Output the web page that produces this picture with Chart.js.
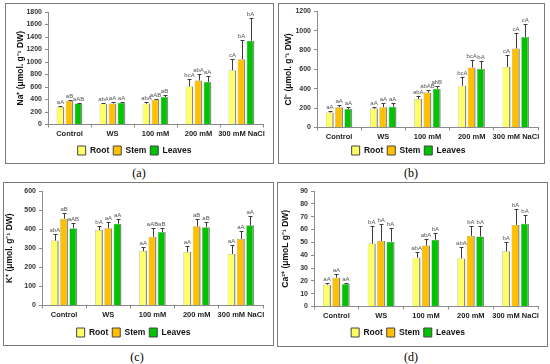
<!DOCTYPE html>
<html>
<head>
<meta charset="utf-8">
<script src="https://cdn.jsdelivr.net/npm/chart.js@4.4.1/dist/chart.umd.min.js"></script>
<style>
  body { margin: 0; width: 550px; height: 364px; background: #fff; position: relative; overflow: hidden; }
  .box { position: absolute; border: 1px solid #7a7a7a; box-sizing: border-box; }
  canvas { position: absolute; }
  .cap { position: absolute; font: 12px "Liberation Serif", serif; color: #000; transform: translate(-50%, -50%); }
</style>
</head>
<body>
<div class="box" style="left:5px;top:3px;width:269px;height:161px"></div>
<div class="box" style="left:278px;top:3px;width:267px;height:161px"></div>
<div class="box" style="left:3px;top:182px;width:271px;height:164px"></div>
<div class="box" style="left:277px;top:182px;width:271px;height:165px"></div>
<canvas id="chartA"></canvas>
<canvas id="chartB"></canvas>
<canvas id="chartC"></canvas>
<canvas id="chartD"></canvas>
<div class="cap" style="left:139px;top:173px">(a)</div>
<div class="cap" style="left:411px;top:173px">(b)</div>
<div class="cap" style="left:137px;top:357px">(c)</div>
<div class="cap" style="left:411px;top:357px">(d)</div>

<script>
// categories and series
const categories = ["Control", "WS", "100 mM", "200 mM", "300 mM NaCl"];
const seriesNames = ["Root", "Stem", "Leaves"];

// (a) Na+
const naRoot = [280, 333, 333, 610, 870];
const naStem = [375, 338, 395, 705, 1045];
const naLeaves = [338, 348, 440, 680, 1340];
const naErr = [[15, 15, 30, 120, 185], [15, 20, 15, 110, 300], [10, 15, 30, 95, 370]];
const naLetters = [["aA", "abA", "abA", "bcA", "cA"], ["aB", "aA", "aAB", "abA", "bA"], ["aAB", "aA", "aB", "aA", "bA"]];

// (b) Cl-
const clRoot = [155, 195, 295, 430, 625];
const clStem = [210, 210, 360, 620, 815];
const clLeaves = [190, 215, 400, 605, 935];
const clErr = [[20, 20, 30, 90, 120], [25, 40, 25, 80, 165], [25, 40, 30, 80, 135]];
const clLetters = [["aA", "aA", "abA", "bcA", "cA"], ["aA", "aA", "abAB", "bcA", "cA"], ["aA", "aA", "abB", "bA", "cA"]];

// (c) K+
const kRoot = [340, 395, 285, 280, 270];
const kStem = [455, 405, 360, 415, 348];
const kLeaves = [405, 428, 385, 410, 420];
const kErr = [[35, 20, 20, 30, 45], [30, 35, 45, 40, 45], [25, 25, 20, 25, 50]];
const kLetters = [["abA", "bA", "aA", "aA", "aA"], ["aB", "aA", "aAB", "aB", "aA"], ["aAB", "aA", "aB", "aB", "aA"]];

// (d) Ca2+
const caRoot = [17, 49, 38, 37.5, 43];
const caStem = [22.5, 51, 47.5, 55, 63.5];
const caLeaves = [17.5, 50.5, 52, 54.5, 64.5];
const caErr = [[1.5, 13.5, 4.5, 8.5, 7], [3, 13, 5, 7.5, 12.5], [1, 11, 5, 8, 6.5]];
const caLetters = [["aA", "bA", "abA", "abA", "bA"], ["aA", "bA", "abA", "bA", "bA"], ["aA", "bA", "bA", "bA", "bA"]];

const barColors = ["#ffff66", "#ffc000", "#00c400"];
const FONT = '"Liberation Sans", Arial, sans-serif';

// error bars + significance letters on top of each bar
const errorBarPlugin = {
  id: "errorBars",
  afterDatasetsDraw(chart) {
    const ctx = chart.ctx;
    const yScale = chart.scales.y;
    chart.data.datasets.forEach((ds, i) => {
      const meta = chart.getDatasetMeta(i);
      meta.data.forEach((bar, j) => {
        const x = Math.round(bar.x) + 0.5;
        const yTop = Math.round(yScale.getPixelForValue(ds.data[j] + ds.errors[j])) + 0.5;
        ctx.save();
        ctx.strokeStyle = "#3c3c3c";
        ctx.lineWidth = 1;
        ctx.beginPath();
        ctx.moveTo(x, bar.y);
        ctx.lineTo(x, yTop);
        ctx.moveTo(x - 2, yTop);
        ctx.lineTo(x + 2, yTop);
        ctx.stroke();
        ctx.fillStyle = "#555";
        ctx.font = "6px " + FONT;
        ctx.textAlign = "center";
        ctx.textBaseline = "bottom";
        ctx.fillText(ds.letters[j], bar.x, yTop - 1);
        ctx.restore();
      });
    });
  },
};

function drawPanel(id, pos, means, errs, letters, yMax, yStep, yTitle, titlePad) {
  const legendOffset = pos.legendY - pos.axisY; // legend centre below x axis
  const xHeight = legendOffset - 8.5;
  const legendH = 23;
  const canvas = document.getElementById(id);
  canvas.style.left = pos.x + "px";
  canvas.style.top = pos.y + "px";
  canvas.width = pos.w;
  canvas.height = pos.axisY - pos.y + xHeight + legendH;

  new Chart(canvas, {
    type: "bar",
    data: {
      labels: categories,
      datasets: seriesNames.map((name, i) => ({
        label: name,
        data: means[i],
        errors: errs[i],
        letters: letters[i],
        backgroundColor: barColors[i],
        borderColor: "#8a8a8a",
        borderWidth: { top: 0.5, left: 0.5, right: 1.5, bottom: 0 },
        borderSkipped: false,
        categoryPercentage: 0.63,
        barPercentage: 0.85,
      })),
    },
    options: {
      responsive: false,
      animation: false,
      layout: {
        padding: { left: 0, top: pos.plotTop - pos.y, right: pos.x + pos.w - pos.plotRight, bottom: 0 },
      },
      plugins: {
        legend: {
          position: "bottom",
          labels: {
            boxWidth: 8,
            boxHeight: 9,
            padding: 4,
            color: "#111",
            font: { family: FONT, size: 8.5, weight: "bold" },
            generateLabels: (chart) => chart.data.datasets.map((ds, i) => ({
              text: ds.label,
              fillStyle: barColors[i],
              strokeStyle: "#444",
              lineWidth: 1,
              fontColor: "#111",
              datasetIndex: i,
              hidden: false,
            })),
          },
        },
        tooltip: { enabled: false },
      },
      scales: {
        x: {
          afterFit: (s) => { s.height = xHeight; },
          grid: { display: true, drawOnChartArea: false, tickLength: 3, color: "#8c8c8c" },
          border: { display: true, color: "#8c8c8c" },
          ticks: { color: "#222", padding: 2, maxRotation: 0, autoSkip: false, font: { family: FONT, size: 7.5, weight: "bold" } },
        },
        y: {
          min: 0,
          max: yMax,
          afterFit: (s) => { s.width = pos.plotLeft - pos.x; },
          grid: { display: true, drawOnChartArea: false, tickLength: 3, color: "#8c8c8c" },
          border: { display: true, color: "#8c8c8c" },
          ticks: {
            stepSize: yStep,
            color: "#333",
            padding: 3,
            font: { family: FONT, size: 7, weight: "bold" },
            callback: (v) => String(v),
          },
          title: {
            display: true,
            text: yTitle,
            color: "#111",
            padding: { top: titlePad, bottom: 0 },
            font: { family: FONT, size: 8.5, weight: "bold" },
          },
        },
      },
    },
    plugins: [errorBarPlugin],
  });
}

drawPanel("chartA", { x: 6, y: 4, w: 267, plotLeft: 48, plotTop: 12, plotRight: 263, axisY: 125, legendY: 151 },
  [naRoot, naStem, naLeaves], naErr, naLetters, 1800, 200, "Na\u207A (\u03BCmol. g\u207B\u00B9 DW)", 10);
drawPanel("chartB", { x: 279, y: 4, w: 265, plotLeft: 317, plotTop: 11, plotRight: 538, axisY: 128, legendY: 151 },
  [clRoot, clStem, clLeaves], clErr, clLetters, 1200, 200, "Cl\u207B (\u03BCmol. g\u207B\u00B9 DW)", 5);
drawPanel("chartC", { x: 4, y: 183, w: 269, plotLeft: 42, plotTop: 191, plotRight: 263, axisY: 306, legendY: 333 },
  [kRoot, kStem, kLeaves], kErr, kLetters, 600, 100, "K\u207A (\u03BCmol. g\u207B\u00B9 DW)", 1);
drawPanel("chartD", { x: 278, y: 183, w: 269, plotLeft: 314, plotTop: 191, plotRight: 538, axisY: 307, legendY: 333 },
  [caRoot, caStem, caLeaves], caErr, caLetters, 90, 10, "Ca\u00B2\u207A (\u03BCmoL g\u207B\u00B9 DW)", 3);
</script>
</body>
</html>
